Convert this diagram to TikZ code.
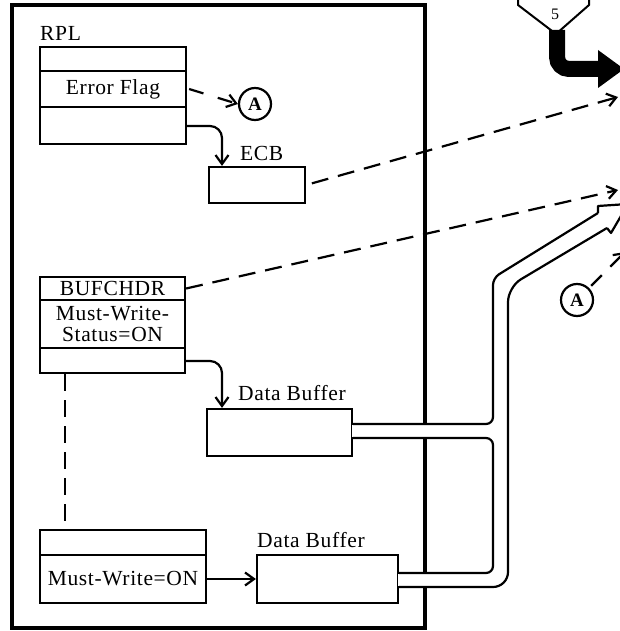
\documentclass[tikz,border=0pt]{standalone}
\usepackage{fontspec}
\setmainfont{Liberation Serif}[LetterSpace=3]
\usetikzlibrary{arrows.meta}
\newcommand\dfont{\fontsize{21.5}{21}\selectfont}
\begin{document}
\begin{tikzpicture}[x=1pt,y=-1pt,
  box/.style={draw,line width=2.2pt,inner sep=0pt,minimum width=#1,font=\dfont},
  lbl/.style={inner sep=0pt,anchor=west,font=\dfont},
  conn/.style={line width=2.2pt},
  barb/.style={-{Straight Barb[length=9pt,width=13pt]}},
  dline/.style={line width=2.2pt,dash pattern=on 17pt off 10pt},
  circ/.style={draw,circle,line width=2.2pt,minimum size=32pt,inner sep=0pt,font=\fontsize{19}{19}\selectfont\bfseries},
  pipe/.style={line width=2.2pt,line join=round}
]
\useasboundingbox (0,0) rectangle (620,631);
\clip (0,0) rectangle (620,631);

% frame
\draw[line width=3.2pt] (12,5) rectangle (425,628);

% RPL
\node[lbl] (rpl) at (40,33) {RPL};
\node[box=146pt,minimum height=24pt] (rpl1) at (113,59) {};
\node[box=146pt,minimum height=36pt] (rpl2) at (113,89) {Error Flag};
\node[box=146pt,minimum height=37pt] (rpl3) at (113,125.5) {};

\node[circ] (a1) at (255,104) {A};
\draw[conn,barb,dash pattern=on 15pt off 15pt] ([xshift=2pt]rpl2.east) -- (a1.west);

% ECB
\node[lbl] (ecblbl) at (240,153) {ECB};
\node[box=96pt,minimum height=36pt] (ecb) at (257,185) {};

% BUFCHDR
\node[box=145pt,minimum height=23pt] (bh1) at (112.5,288.5) {BUFCHDR};
\node[box=145pt,minimum height=48pt,align=center] (bh2) at (112.5,324) {Must-Write-\\Status=ON};
\node[box=145pt,minimum height=25pt] (bh3) at (112.5,360.5) {};

% Data buffer 1
\node[lbl] (db1lbl) at (238,393) {Data Buffer};
\node[box=145pt,minimum height=47pt] (db1) at (279.5,432.5) {};

% lower box
\node[box=166pt,minimum height=25pt] (lb1) at (123,542.5) {};
\node[box=166pt,minimum height=48pt] (lb2) at (123,579) {Must-Write=ON};

% Data buffer 2
\node[lbl] (db2lbl) at (257,540) {Data Buffer};
\node[box=141pt,minimum height=48pt] (db2) at (327.5,579) {};

% connectors inside
\coordinate (e1) at (222,126);
\draw[conn,barb,rounded corners=12pt] (rpl3.east |- e1) -- (e1) -- (ecb.north -| e1);
\coordinate (e2) at (222,361);
\draw[conn,barb,rounded corners=12pt] (bh3.east |- e2) -- (e2) -- (db1.north -| e2);
\draw[conn,barb] (lb2.east) -- (db2.west);
\draw[line width=2.2pt,dash pattern=on 17pt off 9pt] (bh3.south -| 65,0) -- (lb1.north -| 65,0);

% dashed lines to the right
\coordinate (t1) at (618,97);
\coordinate (t2) at (618,190);
\draw[dline,barb,shorten <=6pt] (ecb.east) -- (t1);
\draw[dline,barb] (bh1.east) -- (t2);

% pipes
\fill[white] (352,425) rectangle (490,437);
\fill[white] (398,574) rectangle (490,586);
\draw[pipe,rounded corners=7pt] ([yshift=8.5pt]db1.east) -- (493,424) -- (493,278) -- (598,213);
\draw[pipe] (598,213) -- (598,206) -- (628,204) -- (611,233) -- (607,228);
\draw[pipe,rounded corners=7pt] ([yshift=-5.5pt]db1.east) -- (493,438) -- (493,573) -- ([yshift=6pt]db2.east);
\draw[pipe,rounded corners=15pt] ([yshift=-8pt]db2.east) -- (508,587) -- (508,287) -- (607,228);

% circle A 2
\node[circ] (a2) at (577,300) {A};
\coordinate (t3) at (625,252);
\draw[conn,barb,dash pattern=on 15pt off 12pt,shorten <=3pt] (a2.45) -- (t3);

% off-page connector 5
\draw[line width=2pt] (518,-5) -- (518,5) -- (556,34) -- (589,5) -- (589,-5);
\node[inner sep=0pt,font=\fontsize{16}{16}\selectfont] (five) at (555,14) {5};
\draw[line width=16pt,rounded corners=12pt] (557,30) -- (557,69) -- (600,69);
\fill (598,50) -- (624,69) -- (598,88) -- cycle;
\end{tikzpicture}
\end{document}
